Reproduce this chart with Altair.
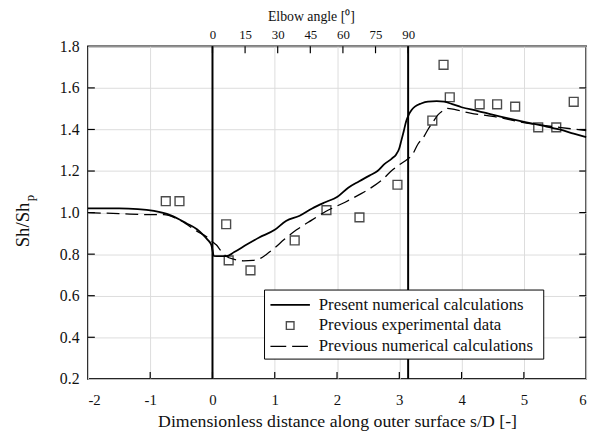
import math
import altair as alt
import pandas as pd

# ---- data ----
present_x = [-2.0, -1.5, -1.2, -0.94, -0.68, -0.42, -0.25, -0.15, -0.08, -0.02, 0.0, 0.02, 0.1, 0.22,
             0.35, 0.55, 0.75, 1.0, 1.18, 1.4, 1.6, 1.81, 2.0, 2.18, 2.35, 2.52, 2.65, 2.76, 2.88, 2.95,
             3.0, 3.03, 3.07, 3.11, 3.15, 3.2, 3.25, 3.35, 3.46, 3.6, 3.72, 3.85, 4.0, 4.25, 4.51, 4.75,
             5.04, 5.3, 5.57, 5.8, 6.0]
present_y = [1.02, 1.02, 1.017, 1.008, 0.988, 0.949, 0.92, 0.893, 0.87, 0.845, 0.82, 0.792, 0.79, 0.79,
             0.81, 0.846, 0.88, 0.917, 0.96, 0.985, 1.02, 1.05, 1.075, 1.12, 1.15, 1.178, 1.2, 1.233, 1.26, 1.28,
             1.31, 1.344, 1.39, 1.44, 1.47, 1.495, 1.51, 1.525, 1.534, 1.536, 1.534, 1.522, 1.507, 1.49, 1.47, 1.453,
             1.434, 1.418, 1.40, 1.38, 1.363]

prevnum_x = [-2.0, -1.5, -1.0, -0.78, -0.6, -0.42, -0.25, -0.1, 0.0, 0.06, 0.14, 0.22, 0.35, 0.5,
             0.65, 0.77, 0.87, 1.0, 1.15, 1.35, 1.6, 1.81, 2.13, 2.35, 2.55, 2.75, 2.87, 3.0, 3.13,
             3.2, 3.3, 3.4, 3.46, 3.55, 3.62, 3.7, 3.77, 3.9, 4.14, 4.5, 5.04, 5.57, 6.0]
prevnum_y = [1.0, 0.995, 0.99, 0.99, 0.975, 0.945, 0.91, 0.885, 0.86, 0.845, 0.815, 0.79, 0.775, 0.768,
             0.77, 0.78, 0.80, 0.83, 0.87, 0.917, 0.965, 1.004, 1.05, 1.085, 1.12, 1.165, 1.2, 1.23, 1.257,
             1.275, 1.33, 1.368, 1.40, 1.44, 1.47, 1.49, 1.502, 1.495, 1.479, 1.463, 1.431, 1.41, 1.395]

exp_x = [-0.75, -0.53, 0.22, 0.26, 0.61, 1.32, 1.83, 2.36, 2.97, 3.53, 3.71, 3.81, 4.29, 4.57, 4.86, 5.23, 5.52, 5.80]
exp_y = [1.055, 1.055, 0.944, 0.77, 0.722, 0.866, 1.012, 0.977, 1.134, 1.443, 1.711, 1.555, 1.521, 1.521, 1.51, 1.41, 1.41, 1.533]

elbow_bounds = [0.0, math.pi]
x_ticks = [-2, -1, 0, 1, 2, 3, 4, 5, 6]
y_ticks = [0.2, 0.4, 0.6, 0.8, 1.0, 1.2, 1.4, 1.6, 1.8]
angle_ticks = [0, 15, 30, 45, 60, 75, 90]

legend_labels = ["Present numerical calculations", "Previous experimental data", "Previous numerical calculations"]
x_title = "Dimensionless distance along outer surface s/D [-]"
top_title = "Elbow angle [\u2070]"
y_title_main = "Sh/Sh"
y_title_sub = "p"

W, H = 505, 337
FONT = "Liberation Serif"

xs = alt.Scale(domain=[-2, 6], nice=False, zero=False)
ys = alt.Scale(domain=[0.2, 1.8], nice=False, zero=False)

present = pd.DataFrame({"x": present_x, "y": present_y})
prevnum = pd.DataFrame({"x": prevnum_x, "y": prevnum_y})
exp = pd.DataFrame({"x": exp_x, "y": exp_y})

x_axis = alt.Axis(orient="bottom", values=x_ticks, format="d", grid=True, gridColor="#dcdcdc",
                  ticks=False, domain=False, labelFont=FONT, labelFontSize=15, labelPadding=14, labelColor="#111",
                  labelExpr="replace(datum.label, '\u2212', '-')",
                  title=x_title, titleFont=FONT, titleFontSize=18, titleFontWeight="normal", titlePadding=5,
                  titleColor="#111")
y_axis = alt.Axis(orient="left", values=y_ticks, format=".1f", grid=True, gridColor="#dcdcdc",
                  ticks=False, domain=False, labelFont=FONT, labelFontSize=16, labelPadding=9, labelColor="#111",
                  title=None)

base_grid = alt.Chart(present).mark_line(opacity=0).encode(
    x=alt.X("x:Q", scale=xs, axis=x_axis),
    y=alt.Y("y:Q", scale=ys, axis=y_axis),
)

line_present = alt.Chart(present).mark_line(color="black", strokeWidth=1.8, interpolate="monotone").encode(
    x=alt.X("x:Q", scale=xs), y=alt.Y("y:Q", scale=ys))
line_prev = alt.Chart(prevnum).mark_line(color="black", strokeWidth=1.3, strokeDash=[13, 6],
                                         interpolate="monotone").encode(
    x=alt.X("x:Q", scale=xs), y=alt.Y("y:Q", scale=ys))
pts = alt.Chart(exp).mark_point(shape="square", size=80, filled=False, color="black", strokeWidth=1.4).encode(
    x=alt.X("x:Q", scale=xs), y=alt.Y("y:Q", scale=ys))

vlines = alt.Chart(pd.DataFrame({"x": elbow_bounds})).mark_rule(color="black", strokeWidth=2).encode(
    x=alt.X("x:Q", scale=xs))

# inward ticks
xt = pd.DataFrame({"x": x_ticks[1:-1]})
yt = pd.DataFrame({"y": y_ticks[1:-1]})
bottom_ticks = alt.Chart(xt).mark_rule(color="black", strokeWidth=1.2).encode(
    x=alt.X("x:Q", scale=xs), y=alt.value(H), y2=alt.value(H - 7))
left_ticks = alt.Chart(yt).mark_rule(color="black", strokeWidth=1.2).encode(
    y=alt.Y("y:Q", scale=ys), x=alt.value(0), x2=alt.value(7))
right_ticks = alt.Chart(yt).mark_rule(color="black", strokeWidth=1.2).encode(
    y=alt.Y("y:Q", scale=ys), x=alt.value(W), x2=alt.value(W - 7))

# legend (drawn)
lx0, lx1, ly0, ly1 = 179, 462, 247, 317
rows = [262, 283, 304]
leg_box = alt.Chart(pd.DataFrame({"a": [0]})).mark_rect(fill="white", stroke="black", strokeWidth=1).encode(
    x=alt.value(lx0), x2=alt.value(lx1), y=alt.value(ly0), y2=alt.value(ly1))
leg_l1 = alt.Chart(pd.DataFrame({"a": [0]})).mark_rule(color="black", strokeWidth=1.8).encode(
    x=alt.value(185), x2=alt.value(225), y=alt.value(rows[0]))
leg_l2 = alt.Chart(pd.DataFrame({"a": [0]})).mark_point(shape="square", size=60, filled=False, color="black",
                                                        strokeWidth=1.4).encode(
    x=alt.value(205), y=alt.value(rows[1]))
leg_l3 = alt.Chart(pd.DataFrame({"a": [0]})).mark_rule(color="black", strokeWidth=1.3, strokeDash=[16, 6]).encode(
    x=alt.value(185), x2=alt.value(225), y=alt.value(rows[2]))
leg_texts = [
    alt.Chart(pd.DataFrame({"t": [lab]})).mark_text(align="left", baseline="middle", fontSize=17,
                                                    font=FONT, color="#111").encode(
        x=alt.value(234), y=alt.value(r), text="t:N")
    for lab, r in zip(legend_labels, rows)
]

# y title with subscript
yt_main = alt.Chart(pd.DataFrame({"t": [y_title_main]})).mark_text(
    angle=270, align="center", baseline="alphabetic", fontSize=19, font=FONT, color="#111").encode(
    x=alt.value(-60), y=alt.value(181), text="t:N")
yt_sub = alt.Chart(pd.DataFrame({"t": [y_title_sub]})).mark_text(
    angle=270, align="left", baseline="alphabetic", fontSize=13, font=FONT, color="#111").encode(
    x=alt.value(-55), y=alt.value(157), text="t:N")

main = alt.layer(base_grid, line_prev, line_present, pts, vlines, bottom_ticks, left_ticks, right_ticks,
                 leg_box, leg_l1, leg_l2, leg_l3, *leg_texts, yt_main, yt_sub)

# top axis: elbow angle
deg_scale = alt.Scale(domain=[-2 * 90 / math.pi, 6 * 90 / math.pi], nice=False, zero=False)
top_axis = alt.Axis(orient="top", values=angle_ticks, format="d", grid=False, ticks=False, domain=False,
                    labelFont=FONT, labelFontSize=13, labelPadding=5, labelColor="#111",
                    title=top_title, titleFont=FONT, titleFontSize=14, titleFontWeight="normal", titleColor="#111",
                    titleX=226, titleY=-30, titleAlign="center", titleBaseline="middle", titleAngle=0)
top = alt.Chart(pd.DataFrame({"deg": angle_ticks})).mark_rule(color="black", strokeWidth=1.2).encode(
    x=alt.X("deg:Q", scale=deg_scale, axis=top_axis), y=alt.value(0), y2=alt.value(7))

chart = alt.layer(main, top).resolve_scale(x="independent").properties(
    width=W, height=H,
    autosize=alt.AutoSizeParams(type="none"),
    padding={"left": 81, "top": 36, "right": 12, "bottom": 50},
).configure(font=FONT, background="white").configure_view(stroke="black", strokeWidth=1.6)

chart.save("out.html", embed_options={"renderer": "svg", "actions": False})
